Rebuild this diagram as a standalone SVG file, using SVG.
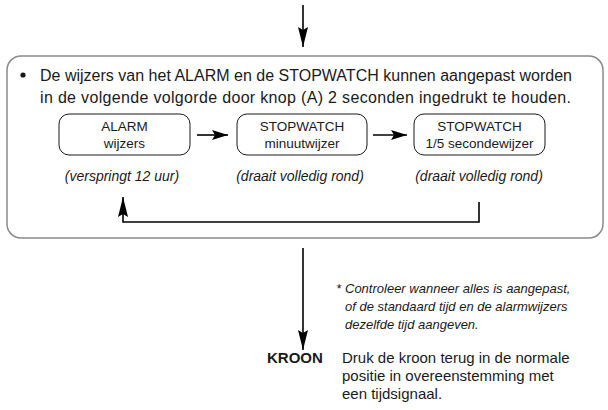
<svg xmlns="http://www.w3.org/2000/svg" width="608" height="410" viewBox="0 0 608 410">
<defs>
<marker id="ah" markerWidth="20" markerHeight="10" refX="20" refY="5" orient="auto" markerUnits="userSpaceOnUse" viewBox="0 0 20 10">
<path d="M0,0 L20,5 L0,10 L3,5 Z" fill="#000"/>
</marker>
<marker id="ahs" markerWidth="16" markerHeight="10" refX="16" refY="5" orient="auto" markerUnits="userSpaceOnUse" viewBox="0 0 16 10">
<path d="M0,0 L16,5 L0,10 L3,5 Z" fill="#000"/>
</marker>
</defs>
<style>
text{font-family:"Liberation Sans",Arial,sans-serif;fill:#1a1a1a}
.main{font-size:16px}
.bx{font-size:13.5px;text-anchor:middle}
.cap{font-size:14px;font-style:italic;text-anchor:middle}
.note{font-size:13px;font-style:italic}
.body{font-size:15px}
.small{fill:#fff;stroke:#1a1a1a;stroke-width:1}
.outer{fill:none;stroke:#8a8a8a;stroke-width:1.5}
.c{fill:none;stroke:#000;stroke-width:1.6}
</style>
<g id="panel">
<rect class="outer" x="7" y="56" width="596" height="182" rx="14"/>
<circle cx="23" cy="75" r="2.6" fill="#1a1a1a"/>
<text class="main" x="40" y="81" textLength="532" lengthAdjust="spacing">De wijzers van het ALARM en de STOPWATCH kunnen aangepast worden</text>
<text class="main" x="40" y="103" textLength="531" lengthAdjust="spacing">in de volgende volgorde door knop (A) 2 seconden ingedrukt te houden.</text>
</g>
<g id="alarm">
<rect class="small" x="59" y="114" width="131" height="41" rx="10"/>
<text class="bx" x="124.5" y="131">ALARM</text>
<text class="bx" x="124.5" y="148">wijzers</text>
<text class="cap" x="122" y="181">(verspringt 12 uur)</text>
</g>
<g id="stopwatch-min">
<rect class="small" x="237" y="114" width="130" height="41" rx="10"/>
<text class="bx" x="302" y="131">STOPWATCH</text>
<text class="bx" x="302" y="148">minuutwijzer</text>
<text class="cap" x="300" y="181">(draait volledig rond)</text>
</g>
<g id="stopwatch-sec">
<rect class="small" x="414" y="114" width="131" height="41" rx="10"/>
<text class="bx" x="479.5" y="131">STOPWATCH</text>
<text class="bx" x="479.5" y="148">1/5 secondewijzer</text>
<text class="cap" x="479" y="181">(draait volledig rond)</text>
</g>
<g id="note">
<text class="note" x="336" y="293">*</text>
<text class="note" x="345" y="293">Controleer wanneer alles is aangepast,</text>
<text class="note" x="345" y="311">of de standaard tijd en de alarmwijzers</text>
<text class="note" x="345" y="329">dezelfde tijd aangeven.</text>
</g>
<g id="kroon">
<text class="body" x="267" y="363" font-weight="bold">KROON</text>
<text class="body" x="342" y="363">Druk de kroon terug in de normale</text>
<text class="body" x="342" y="381">positie in overeenstemming met</text>
<text class="body" x="342" y="399">een tijdsignaal.</text>
</g>
<g id="connectors">
<line class="c" x1="303" y1="5" x2="303" y2="47" marker-end="url(#ah)"/>
<line class="c" x1="197" y1="135" x2="228" y2="135" marker-end="url(#ahs)"/>
<line class="c" x1="373" y1="135" x2="407" y2="135" marker-end="url(#ahs)"/>
<polyline class="c" points="479,202 479,222 123,222 123,197" marker-end="url(#ah)"/>
<line class="c" x1="303" y1="248" x2="303" y2="350" marker-end="url(#ah)"/>
</g>
</svg>
